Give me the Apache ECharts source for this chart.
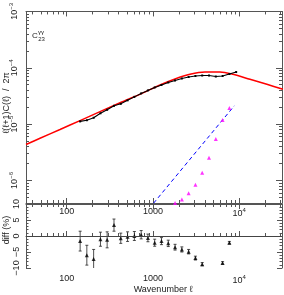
<!DOCTYPE html>
<html><head><meta charset="utf-8">
<script src="https://cdn.jsdelivr.net/npm/echarts@6/dist/echarts.min.js"></script>
<style>html,body{margin:0;padding:0;background:#fff}#c{width:284px;height:295px}</style>
</head><body><div id="c"></div>
<script>
// ---- data ----
const theoryL = [33.7, 49, 83.6, 142.6, 243, 415, 746, 1206, 1799, 2685, 4006, 5975, 8450, 13300, 20900, 32100];
const theoryV = [4.34e-6, 5.60e-6, 8.04e-6, 1.156e-5, 1.663e-5, 2.393e-5, 3.51e-5, 4.95e-5, 6.32e-5, 7.65e-5, 8.40e-5, 8.40e-5, 7.65e-5, 6.24e-5, 5.09e-5, 4.16e-5];
const dataL = [143,171,205,246,294,353,423,507,608,729,873,1046,1254,1503,1802,2160,2589,3103,3720,4459,5346,6408,7681,9207];
const dataV = [1.117e-5,1.172e-5,1.297e-5,1.556e-5,1.795e-5,2.112e-5,2.290e-5,2.640e-5,3.044e-5,3.508e-5,3.963e-5,4.475e-5,4.955e-5,5.483e-5,5.945e-5,6.450e-5,6.856e-5,7.141e-5,7.286e-5,7.286e-5,6.993e-5,7.141e-5,7.745e-5,8.40e-5];
const noiseL = [900, 8750];
const noiseV = [3.16e-7, 2.11e-5];
const magL = [1802,2160,2589,3103,3720,4459,5346,6408,7681];
const magV = [4.0e-7,4.58e-7,5.92e-7,8.43e-7,1.374e-6,2.52e-6,5.46e-6,1.180e-5,1.923e-5];
const diffL = [143,171,205,246,294,353,423,507,608,729,873,1046,1254,1503,1802,2160,2589,3103,3720,6408,7681];
const diffV = [-1.6,-6.0,-7.2,-1.0,-1.2,3.4,-0.7,-0.2,0.0,0.4,-0.6,-2.1,-1.6,-2.3,-3.5,-4.2,-4.9,-6.9,-8.8,-8.4,-2.1];
const diffE = [3.1,3.1,3.0,2.2,2.5,1.9,1.6,1.5,1.4,1.3,1.2,1.1,1.1,1.0,0.9,0.8,0.7,0.6,0.5,0.4,0.4];
// ---- ticks ----
const xMajor = [100, 1000, 10000];
const xMinor = [40,50,60,70,80,90,200,300,400,500,600,700,800,900,2000,3000,4000,5000,6000,7000,8000,9000,20000,30000];
const yMajor = [1e-6, 1e-5, 1e-4, 1e-3];
const yMinor = [4e-7,5e-7,6e-7,7e-7,8e-7,9e-7,2e-6,3e-6,4e-6,5e-6,6e-6,7e-6,8e-6,9e-6,2e-5,3e-5,4e-5,5e-5,6e-5,7e-5,8e-5,9e-5,2e-4,3e-4,4e-4,5e-4,6e-4,7e-4,8e-4,9e-4];
const xMin = 33.7, xMax = 31300, yMin = 3.98e-7, yMax = 1e-3;

const FONT = "'Liberation Sans', Arial, sans-serif";
const AX = '#555', TXT = '#222';
const rich = { sup: { fontSize: 6, padding: [0,0,7,0], fontFamily: FONT, color: TXT } };
function powFmt(v) {
  if (v === 100 || v === 1000) return String(v);
  const e = Math.round(Math.log10(v));
  return '10{sup|' + (e < 0 ? '\u2212' + (-e) : e) + '}';
}
function logX(grid, pos, ticks, len, line, labels, margin) {
  return { type: 'log', logBase: 10, gridIndex: grid, position: pos, min: xMin, max: xMax,
    axisLine: { show: line, lineStyle: { color: AX, width: 1 } },
    axisTick: { show: true, inside: true, length: len, customValues: ticks, lineStyle: { color: AX } },
    axisLabel: labels ? { show: true, customValues: xMajor, formatter: powFmt, rich: rich, fontSize: 9, fontFamily: FONT, color: TXT, margin: margin } : { show: false },
    splitLine: { show: false }, minorTick: { show: false } };
}
function logY(pos, ticks, len, line, labels) {
  return { type: 'log', logBase: 10, gridIndex: 0, position: pos, min: yMin, max: yMax,
    axisLine: { show: line, lineStyle: { color: AX, width: 1 } },
    axisTick: { show: true, inside: true, length: len, customValues: ticks, lineStyle: { color: AX } },
    axisLabel: labels ? { show: true, customValues: yMajor, formatter: powFmt, rich: rich, rotate: 90, fontSize: 9, fontFamily: FONT, color: TXT, margin: 5 } : { show: false },
    splitLine: { show: false }, minorTick: { show: false } };
}
function linY(pos, labels) {
  return { type: 'value', gridIndex: 1, position: pos, min: -10, max: 10, interval: 5,
    axisLine: { show: true, lineStyle: { color: AX, width: 1 } },
    axisTick: { show: true, inside: true, length: 5, lineStyle: { color: AX } },
    minorTick: { show: true, splitNumber: 5, length: 2.5, lineStyle: { color: AX } },
    axisLabel: labels ? { show: true, rotate: 90, fontSize: 9, fontFamily: FONT, color: TXT, margin: 5,
      formatter: v => v < 0 ? '\u2212' + (-v) : String(v) } : { show: false },
    splitLine: { show: false } };
}

const option = {
  animation: false,
  grid: [
    { left: 26, top: 10, width: 256, height: 193 },
    { left: 26, top: 204, width: 256, height: 64 }
  ],
  xAxis: [
    logX(0, 'bottom', xMajor, 5, true, true, 4),
    logX(0, 'bottom', xMinor, 3, false, false),
    logX(0, 'top', xMajor, 5, true, false),
    logX(0, 'top', xMinor, 3, false, false),
    logX(1, 'bottom', xMajor, 5, true, true, 6),
    logX(1, 'bottom', xMinor, 3, false, false),
    logX(1, 'top', xMajor, 5, true, false),
    logX(1, 'top', xMinor, 3, false, false)
  ],
  yAxis: [
    logY('left', yMajor, 6, true, true),
    logY('left', yMinor, 3, false, false),
    logY('right', yMajor, 6, true, false),
    logY('right', yMinor, 3, false, false),
    linY('left', true),
    linY('right', false)
  ],
  series: [
    { type: 'line', xAxisIndex: 0, yAxisIndex: 0, data: theoryL.map((l, i) => [l, theoryV[i]]),
      smooth: 0.3, showSymbol: false, lineStyle: { color: '#ff0000', width: 1.5 }, z: 2 },
    { type: 'line', xAxisIndex: 0, yAxisIndex: 0, data: noiseL.map((l, i) => [l, noiseV[i]]),
      showSymbol: false, lineStyle: { color: '#0000ff', width: 1, type: [4, 3] }, z: 2 },
    { type: 'scatter', xAxisIndex: 0, yAxisIndex: 0, data: magL.map((l, i) => [l, magV[i]]),
      symbol: 'triangle', symbolSize: 4, itemStyle: { color: '#ff00ff' }, z: 3 },
    { type: 'line', xAxisIndex: 0, yAxisIndex: 0, data: dataL.map((l, i) => [l, dataV[i]]),
      symbol: 'rect', symbolSize: 2, showSymbol: true, itemStyle: { color: '#000' },
      lineStyle: { color: '#000', width: 1.1 }, z: 4 },
    { type: 'custom', xAxisIndex: 4, yAxisIndex: 4, clip: true,
      data: diffL.map((l, i) => [l, diffV[i], diffE[i]]),
      encode: { x: 0, y: 1 },
      renderItem: function (params, api) {
        const x = api.value(0), y = api.value(1), e = api.value(2);
        const a = api.coord([x, y + e]), b = api.coord([x, y - e]);
        const st = { stroke: '#222', lineWidth: 0.8 };
        return { type: 'group', children: [
          { type: 'line', shape: { x1: a[0], y1: a[1], x2: b[0], y2: b[1] }, style: st },
          { type: 'line', shape: { x1: a[0] - 1.5, y1: a[1], x2: a[0] + 1.5, y2: a[1] }, style: st },
          { type: 'line', shape: { x1: b[0] - 1.5, y1: b[1], x2: b[0] + 1.5, y2: b[1] }, style: st }
        ] };
      }, z: 3 },
    { type: 'scatter', xAxisIndex: 4, yAxisIndex: 4, data: diffL.map((l, i) => [l, diffV[i]]),
      symbol: 'triangle', symbolSize: 4, itemStyle: { color: '#000' }, z: 4,
      markLine: { silent: true, symbol: 'none', label: { show: false },
        lineStyle: { color: '#444', width: 1, type: 'solid' }, data: [{ yAxis: 0 }] } }
  ],
  graphic: [
    { type: 'text', x: 7, y: 103, rotation: Math.PI / 2,
      style: { text: 'ℓ(ℓ+1)C(ℓ)  /  2π', fontSize: 9, fontFamily: FONT, fill: TXT, align: 'center', verticalAlign: 'middle', textAlign: 'center', textVerticalAlign: 'middle' } },
    { type: 'text', x: 7, y: 230, rotation: Math.PI / 2,
      style: { text: 'diff (%)', fontSize: 9, fontFamily: FONT, fill: TXT, align: 'center', verticalAlign: 'middle', textAlign: 'center', textVerticalAlign: 'middle' } },
    { type: 'text', x: 163, y: 290,
      style: { text: 'Wavenumber ℓ', fontSize: 9, fontFamily: FONT, fill: TXT, align: 'center', verticalAlign: 'middle', textAlign: 'center', textVerticalAlign: 'middle' } },
    { type: 'text', x: 35, y: 36,
      style: { text: 'C', fontSize: 8, fontFamily: FONT, fill: TXT, align: 'center', verticalAlign: 'middle', textAlign: 'center', textVerticalAlign: 'middle' } },
    { type: 'text', x: 41, y: 32,
      style: { text: 'γγ', fontSize: 6, fontFamily: FONT, fill: TXT, align: 'center', verticalAlign: 'middle', textAlign: 'center', textVerticalAlign: 'middle' } },
    { type: 'text', x: 41.5, y: 39.5,
      style: { text: '23', fontSize: 6, fontFamily: FONT, fill: TXT, align: 'center', verticalAlign: 'middle', textAlign: 'center', textVerticalAlign: 'middle' } }
  ]
};
const chart = echarts.init(document.getElementById('c'), null, { renderer: 'canvas' });
chart.setOption(option);
</script>
</body></html>
